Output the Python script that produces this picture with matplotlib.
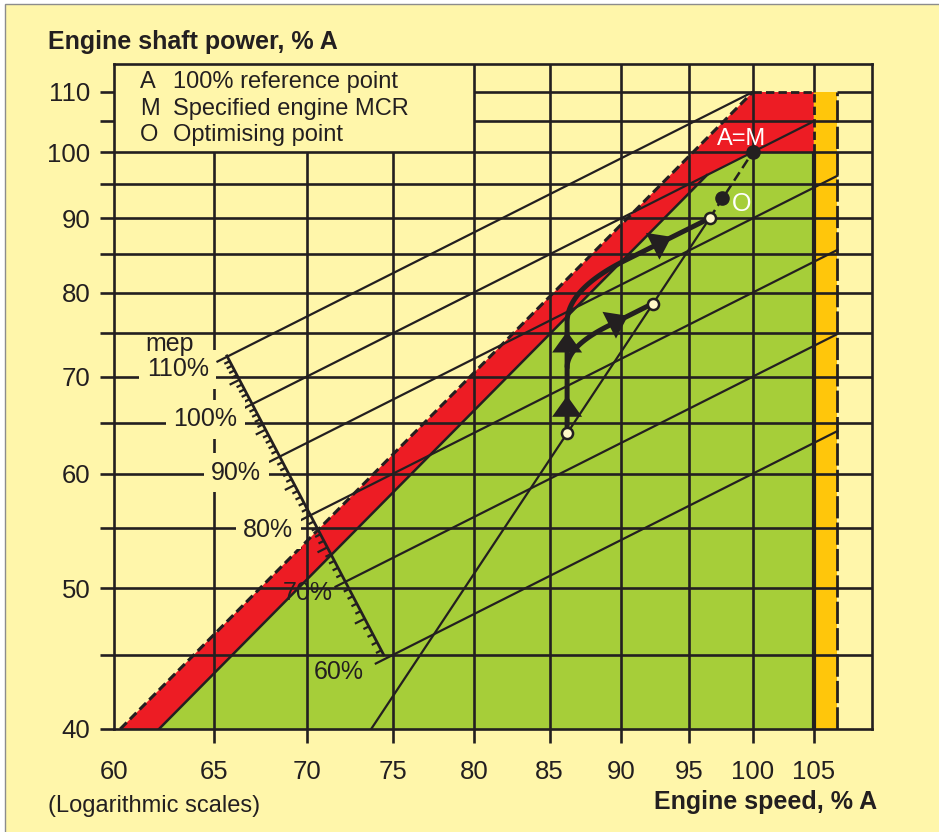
"""
Engine layout diagram: shaft power vs. engine speed on logarithmic scales.
"""

import numpy as np
import matplotlib.pyplot as plt
from matplotlib.patches import Rectangle

plt.rcParams['font.family'] = ['Liberation Sans', 'DejaVu Sans']

BG = '#FFF6AA'
GREEN = '#A6CE39'
RED = '#ED1C24'
ORANGE = '#FFC60B'
INK = '#231F20'
FS = 17

# ---- axes / grid -------------------------------------------------------
speed_ticks = [60, 65, 70, 75, 80, 85, 90, 95, 100, 105]
power_ticks = [40, 45, 50, 55, 60, 65, 70, 75, 80, 85, 90, 95, 100, 105, 110]
power_labelled = [40, 50, 60, 70, 80, 90, 100, 110]

hgrid_full = [45, 50, 55, 60, 65, 70, 75, 80, 85, 90, 95, 100]
hgrid_upper = [105]
vgrid_short = [65, 70, 75]
vgrid_full = [80, 85, 90, 95, 100]

# ---- layout limits -----------------------------------------------------
limit_speed = [60.3, 100.0]          # dashed limit line
limit_power = [40.0, 110.0]
green_speed = [62.2, 96.4, 100.0, 105.0]   # upper edge of green area
green_power = [40.0, 96.4, 100.0, 100.0]
band_speed = [105.0, 107.0]          # orange overspeed band
band_power = [40.0, 110.0]

# ---- mep scale and constant-mep lines ---------------------------------
mep_levels = [110, 100, 90, 80, 70, 60]
mep_end_speed = [100, 105, 107, 107, 107, 107]
scale_speed = [65.67, 74.44]
scale_power = [72.34, 45.0]
mep_label_text = ['mep', '110%', '100%', '90%', '80%', '70%', '60%']
mep_label_speed = [62.75, 63.15, 64.53, 66.16, 67.87, 70.03, 71.84]
mep_label_power = [73.7, 70.8, 65.4, 60.1, 54.9, 49.66, 43.8]
mep_label_boxed = [False, True, True, True, True, False, False]

# ---- propeller curve ---------------------------------------------------
prop_speed = [73.7, 96.6, 100.0]
prop_power = [40.0, 90.0, 100.0]

open_speed = [86.2, 92.3, 96.6]
open_power = [64.0, 78.6, 90.0]
dot_speed = [97.6, 100.0]
dot_power = [93.0, 100.0]

# thick load paths: start, curve start, corner, curve end, end
path1_speed = [86.2, 86.2, 86.2, 90.2, 96.6]
path1_power = [64.0, 76.3, 80.35, 84.1, 90.0]
path2_speed = [86.2, 86.2, 86.2, 89.0, 92.3]
path2_power = [71.0, 71.0, 73.4, 75.8, 78.6]
arrow_speed = [86.2, 86.2, 93.7, 90.5]
arrow_power = [67.9, 75.2, 87.4, 77.1]
arrow_slope = [None, None, 1.0, 1.0]   # None = vertical


def bezier_log(xs, ys, n=40):
    """Quadratic bezier through 3 points, computed in log space."""
    lx, ly = np.log(xs), np.log(ys)
    t = np.linspace(0, 1, n)
    bx = (1 - t) ** 2 * lx[0] + 2 * t * (1 - t) * lx[1] + t ** 2 * lx[2]
    by = (1 - t) ** 2 * ly[0] + 2 * t * (1 - t) * ly[1] + t ** 2 * ly[2]
    return np.exp(bx), np.exp(by)


def load_path(sx, sy):
    bx, by = bezier_log(sx[1:4], sy[1:4])
    xs = np.concatenate([[sx[0]], bx, [sx[4]]])
    ys = np.concatenate([[sy[0]], by, [sy[4]]])
    return xs, ys


fig = plt.figure(figsize=(9.39, 8.32), dpi=100)
fig.patch.set_facecolor('white')
fig.add_artist(Rectangle((5 / 939, -0.01), 1.0, 1 - 4 / 832 + 0.01,
                         transform=fig.transFigure, facecolor=BG,
                         edgecolor='#8C8C8C', lw=1.0, zorder=-10))

ax = fig.add_axes([114 / 939, 1 - 729 / 832, 758 / 939, 665 / 832])
ax.set_facecolor('none')
ax.set_xscale('log')
ax.set_yscale('log')
ax.set_xlim(60, 110)
ax.set_ylim(40, 115)

ax.set_xticks(speed_ticks, labels=[str(v) for v in speed_ticks])
ax.set_xticks([], minor=True)
ax.set_yticks(power_ticks,
              labels=[str(v) if v in power_labelled else '' for v in power_ticks])
ax.set_yticks([], minor=True)
ax.tick_params(direction='out', length=10, width=1.9, color=INK,
               labelcolor=INK, labelsize=18.5)
ax.tick_params(axis='y', pad=7)
ax.tick_params(axis='x', pad=12)
ax.xaxis.get_major_ticks()[0].tick1line.set_visible(False)
for s in ax.spines.values():
    s.set_linewidth(1.9)
    s.set_color(INK)

# ---- coloured areas ----------------------------------------------------
red_x = limit_speed + [band_speed[0], band_speed[0]] + green_speed[::-1][1:]
red_y = limit_power + [limit_power[1], green_power[-1]] + green_power[::-1][1:]
ax.fill(red_x, red_y, color=RED, lw=0, zorder=1)
ax.fill(green_speed + [band_speed[0]], green_power + [band_power[0]],
        color=GREEN, lw=0, zorder=1)
ax.fill([band_speed[0], band_speed[1], band_speed[1], band_speed[0]],
        [band_power[0], band_power[0], band_power[1], band_power[1]],
        color=ORANGE, lw=0, zorder=1)

# ---- grid --------------------------------------------------------------
glw = 1.9
ax.hlines(hgrid_full, 60, 110, color=INK, lw=glw, zorder=2)
ax.hlines(hgrid_upper, 80, 110, color=INK, lw=glw, zorder=2)
ax.hlines(110, 80, limit_speed[1], color=INK, lw=glw, zorder=2)
ax.hlines(110, band_speed[1], 110, color=INK, lw=glw, zorder=2)
ax.hlines(110, limit_speed[1], band_speed[0], color=INK, lw=2.0,
          linestyles=(0, (3, 1.5)), zorder=2)
ax.vlines(vgrid_short, 40, 100, color=INK, lw=glw, zorder=2)
ax.vlines(vgrid_full, 40, 115, color=INK, lw=glw, zorder=2)
ax.vlines(band_speed[0], 110, 115, color=INK, lw=glw, zorder=2)
ax.vlines(band_speed[0], 100, 110, color=INK, lw=2.0,
          linestyles=(0, (3, 1.5)), zorder=2)
ax.vlines(band_speed[0], 40, 100, color=INK, lw=3.0, zorder=2)
ax.vlines(band_speed[1], 40, 110, color=INK, lw=2.0,
          linestyles=(0, (8, 1.5)), zorder=2)

# dashed limit line
ax.plot(limit_speed, limit_power, color=INK, lw=2.2,
        linestyle=(0, (3, 1.5)), zorder=3)
# lower edge of red band
ax.plot(green_speed[:2], green_power[:2], color=INK, lw=1.8, zorder=3)

# ---- mep scale ---------------------------------------------------------
b = np.log(scale_power[1] / scale_power[0]) / np.log(scale_speed[1] / scale_speed[0])
a = np.log(scale_power[0]) - b * np.log(scale_speed[0])


def on_scale(m):
    ln_n = (a - np.log(m / 100.0)) / (1 - b)
    n = np.exp(ln_n)
    return n, n * m / 100.0


d0 = ax.transData.transform([(80, 60), (80 * 1.01, 60 * 1.01)])
ln_per_px = np.log(1.01) / np.hypot(*(d0[1] - d0[0]))

ax.plot(scale_speed, scale_power, color=INK, lw=2.0, zorder=3)
for m in range(60, 111):
    n0, p0 = on_scale(m)
    if m % 10 == 0:
        continue
    L = 11 if m % 5 == 0 else 6
    f = np.exp(-L * ln_per_px)
    ax.plot([n0, n0 * f], [p0, p0 * f], color=INK, lw=1.6, zorder=3,
            solid_capstyle='butt')

for m, n_end in zip(mep_levels, mep_end_speed):
    n0, p0 = on_scale(m)
    f = np.exp(-11 * ln_per_px)
    ax.plot([n0 * f, n_end], [p0 * f, n_end * m / 100.0], color=INK, lw=1.6,
            zorder=3)

for txt, x, y, boxed in zip(mep_label_text, mep_label_speed, mep_label_power,
                            mep_label_boxed):
    kw = {}
    if boxed:
        kw['bbox'] = dict(boxstyle='square,pad=0.3', facecolor=BG, edgecolor='none')
    ax.text(x, y, txt, fontsize=18, color=INK, ha='center', va='center',
            zorder=4 if boxed else 4.5, **kw)

# ---- propeller curve ---------------------------------------------------
ax.plot(prop_speed[:2], prop_power[:2], color=INK, lw=1.6, zorder=3)
ax.plot(prop_speed[1:], prop_power[1:], color=INK, lw=1.8,
        linestyle=(0, (4, 2)), zorder=3)

# ---- thick load paths with arrows -------------------------------------
for sx, sy in [(path1_speed, path1_power), (path2_speed, path2_power)]:
    xs, ys = load_path(sx, sy)
    ax.plot(xs, ys, color=INK, lw=3.6, zorder=5, solid_capstyle='butt')

for x, y, slope in zip(arrow_speed, arrow_power, arrow_slope):
    if slope is None:
        tail = (x, y / 1.06)
    else:
        tail = (x / 1.04, y / 1.04 ** slope)
    ax.annotate('', xy=(x, y), xytext=tail,
                arrowprops=dict(arrowstyle='-|>,head_length=0.42,head_width=0.3',
                                color=INK, lw=0, mutation_scale=36,
                                shrinkA=0, shrinkB=0),
                zorder=6)

ax.plot(open_speed, open_power, 'o', ms=8, mfc='#FFF8C8', mec=INK, mew=1.8,
        zorder=7)
ax.plot(dot_speed, dot_power, 'o', ms=9.5, color=INK, zorder=7)

ax.text(99.1, 102.1, 'A=M', color='white', fontsize=FS, ha='center',
        va='center', zorder=8)
ax.text(99.1, 92.1, 'O', color='white', fontsize=18, ha='center',
        va='center', zorder=8)

# ---- legend block -------------------------------------------------------
legend_keys = ['A', 'M', 'O']
legend_desc = ['100% reference point', 'Specified engine MCR', 'Optimising point']
legend_y = [0.973, 0.932, 0.893]
for k, d, y in zip(legend_keys, legend_desc, legend_y):
    ax.text(0.034, y, k, transform=ax.transAxes, fontsize=FS, color=INK,
            va='center', ha='left')
    ax.text(0.078, y, d, transform=ax.transAxes, fontsize=FS, color=INK,
            va='center', ha='left')

fig.text(48 / 939, 1 - 42 / 832, 'Engine shaft power, % A', fontsize=18,
         fontweight='bold', color=INK, ha='left', va='center')
fig.text(48 / 939, 1 - 806 / 832, '(Logarithmic scales)', fontsize=FS,
         color=INK, ha='left', va='center')
fig.text(877 / 939, 1 - 802 / 832, 'Engine speed, % A', fontsize=18,
         fontweight='bold', color=INK, ha='right', va='center')

fig.savefig('out.png', dpi=100, facecolor=fig.get_facecolor())
